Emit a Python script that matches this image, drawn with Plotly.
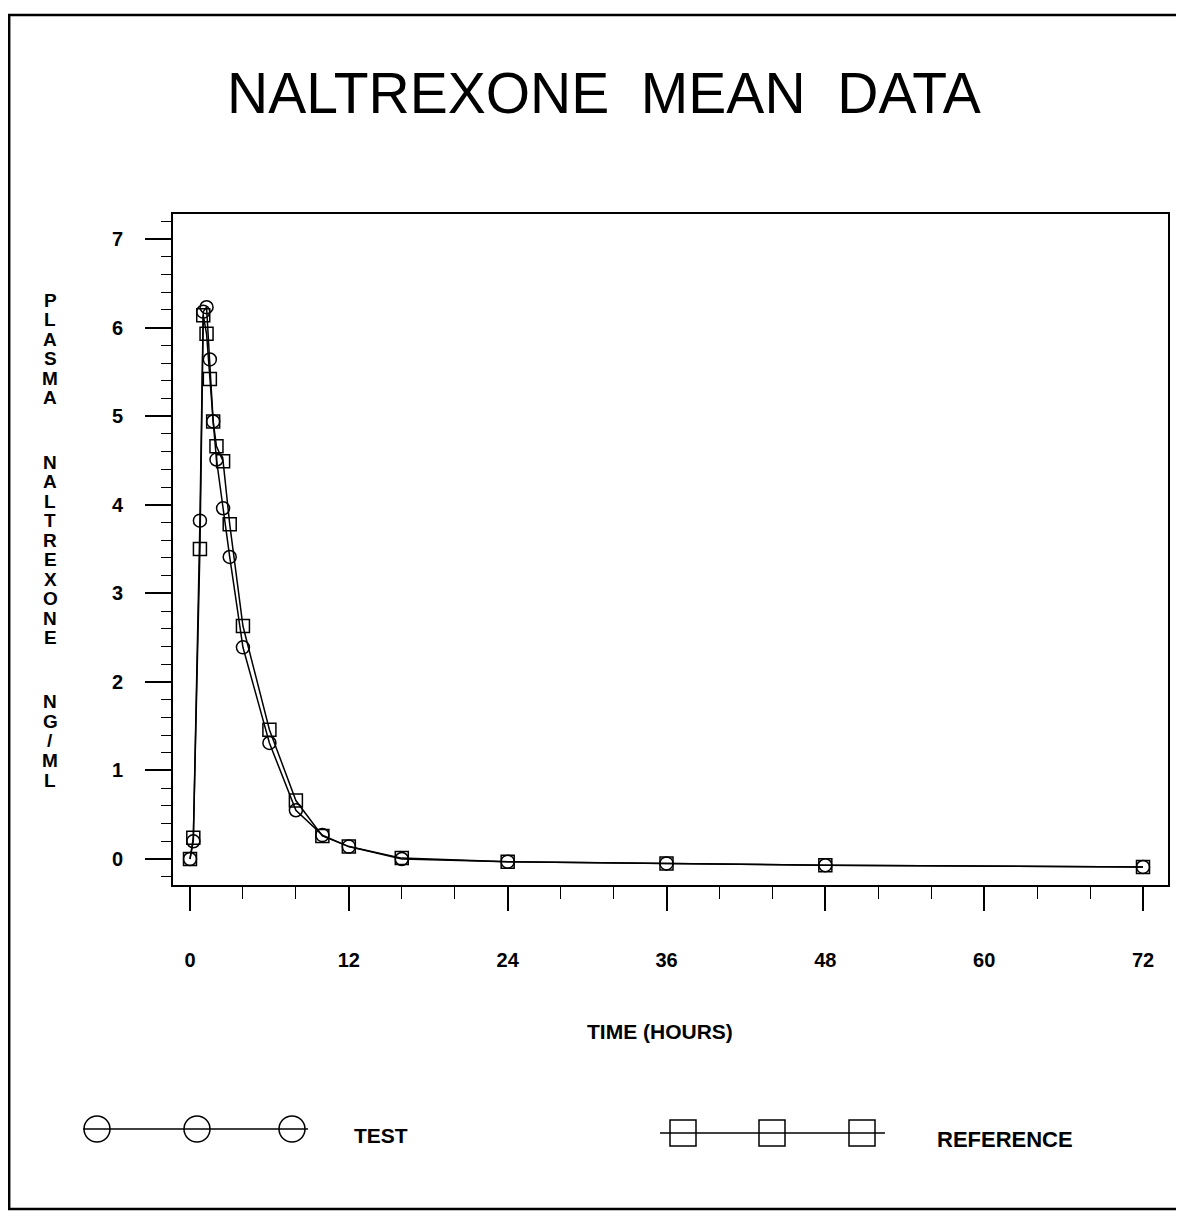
import plotly.graph_objects as go

# ---- data ----
times_h = [0, 0.25, 0.75, 1, 1.25, 1.5, 1.75, 2, 2.5, 3, 4, 6, 8, 10, 12, 16, 24, 36, 48, 72]
test_conc = [0.0, 0.20, 3.82, 6.18, 6.23, 5.64, 4.94, 4.51, 3.96, 3.41, 2.39, 1.31, 0.55, 0.27,
             0.14, 0.0, -0.03, -0.05, -0.07, -0.09]
ref_conc = [0.0, 0.24, 3.50, 6.14, 5.93, 5.42, 4.94, 4.66, 4.49, 3.78, 2.63, 1.46, 0.66, 0.26,
            0.14, 0.01, -0.03, -0.05, -0.07, -0.09]
x_ticks = [0, 12, 24, 36, 48, 60, 72]
y_ticks = [0, 1, 2, 3, 4, 5, 6, 7]
series_names = ["TEST", "REFERENCE"]
title_text = "NALTREXONE\u00a0 MEAN\u00a0 DATA"
x_title = "TIME (HOURS)"
y_title_words = ["PLASMA", "NALTREXONE", "NG/ML"]

# page body has an 8px default margin; work in window pixels
OFF = 8
W, H = 1184 - OFF, 1213 - OFF
FONT = "Liberation Sans, Arial, sans-serif"

def px(x):
    return (x - OFF) / W

def py(y):
    return 1 - (y - OFF) / H

fig = go.Figure()

mk_line = dict(color="black", width=1.5)
fig.add_trace(go.Scatter(x=times_h, y=test_conc, mode="lines+markers", name=series_names[0],
                         line=mk_line,
                         marker=dict(symbol="circle-open", size=13, color="black",
                                     line=dict(width=1.5, color="black")),
                         showlegend=False, xaxis="x", yaxis="y"))
fig.add_trace(go.Scatter(x=times_h, y=ref_conc, mode="lines+markers", name=series_names[1],
                         line=mk_line,
                         marker=dict(symbol="square-open", size=13, color="black",
                                     line=dict(width=1.5, color="black")),
                         showlegend=False, xaxis="x", yaxis="y"))

# ---- legend samples on an overlay pixel axis ----
leg_y = [1129, 1133]
leg_line_x = [[83, 308], [660, 885]]
leg_mark_x = [[97, 197, 292], [683, 772, 862]]
symbols = ["circle-open", "square-open"]
for i in range(2):
    fig.add_trace(go.Scatter(x=leg_line_x[i], y=[leg_y[i]] * 2, mode="lines",
                             line=dict(color="black", width=1.5), showlegend=False,
                             hoverinfo="skip", xaxis="x2", yaxis="y2"))
    fig.add_trace(go.Scatter(x=leg_mark_x[i], y=[leg_y[i]] * 3, mode="markers",
                             marker=dict(symbol=symbols[i], size=26, color="black",
                                         line=dict(width=1.5, color="black")),
                             showlegend=False, hoverinfo="skip", xaxis="x2", yaxis="y2"))

# ---- axes geometry ----
x0_px, x72_px = 190, 1143
fl, fr, ft, fb = 173, 1168, 214, 885
hx = (x72_px - x0_px) / 72.0
y0_px, y7_px = 859, 239
uy = (y0_px - y7_px) / 7.0
xr = [(fl - x0_px) / hx, 72 + (fr - x72_px) / hx]
yr = [-(fb - y0_px) / uy, 7 + (y7_px - ft) / uy]

tickfont = dict(family=FONT, size=20, color="black", weight="bold")

fig.update_layout(
    width=W, height=H, autosize=False,
    margin=dict(l=0, r=0, t=0, b=0),
    paper_bgcolor="white", plot_bgcolor="rgba(0,0,0,0)",
    xaxis=dict(domain=[px(fl), px(fr)], range=xr, tickvals=x_ticks,
               showline=True, linecolor="black", linewidth=2, mirror=True,
               ticks="outside", ticklen=24, tickwidth=1.5, tickcolor="black",
               minor=dict(dtick=4, tick0=0, ticks="outside", ticklen=12, tickwidth=1.2,
                          tickcolor="black", showgrid=False),
               showgrid=False, zeroline=False, tickfont=tickfont, ticklabelstandoff=32),
    yaxis=dict(domain=[py(fb), py(ft)], range=yr, tickvals=y_ticks,
               showline=True, linecolor="black", linewidth=2, mirror=True,
               ticks="outside", ticklen=26, tickwidth=1.5, tickcolor="black",
               minor=dict(dtick=0.2, tick0=0, ticks="outside", ticklen=10, tickwidth=1.2,
                          tickcolor="black", showgrid=False),
               showgrid=False, zeroline=False, tickfont=tickfont, ticklabelstandoff=18),
    xaxis2=dict(domain=[0, 1], range=[OFF, OFF + W], visible=False, fixedrange=True,
                anchor="y2"),
    yaxis2=dict(domain=[0, 1], range=[OFF + H, OFF], visible=False, fixedrange=True,
                anchor="x2"),
    showlegend=False,
)

# outer border
fig.add_shape(type="rect", xref="paper", yref="paper",
              x0=0.001, x1=px(1195), y0=py(1209), y1=py(15),
              line=dict(color="black", width=2.5), layer="above")

ann = []
ann.append(dict(text=title_text, x=px(604), y=py(93), xref="paper", yref="paper",
                showarrow=False, xanchor="center", yanchor="middle",
                font=dict(family=FONT, size=57, color="black")))
ann.append(dict(text=x_title, x=px(660), y=py(1031), xref="paper", yref="paper",
                showarrow=False, xanchor="center", yanchor="middle",
                font=dict(family=FONT, size=21, color="black", weight="bold")))
ann.append(dict(text=series_names[0], x=px(381), y=py(1135), xref="paper", yref="paper",
                showarrow=False, xanchor="center", yanchor="middle",
                font=dict(family=FONT, size=21, color="black", weight="bold")))
ann.append(dict(text=series_names[1], x=px(1005), y=py(1139), xref="paper", yref="paper",
                showarrow=False, xanchor="center", yanchor="middle",
                font=dict(family=FONT, size=22, color="black", weight="bold")))

# stacked vertical y title
letter_step, y_first, y_last = 19.5, 300, 780
n_letters = sum(len(w) for w in y_title_words)
gap = ((y_last - y_first) - (n_letters - len(y_title_words)) * letter_step) / (len(y_title_words) - 1)
yy = y_first
for wi, word in enumerate(y_title_words):
    for ci, ch in enumerate(word):
        ann.append(dict(text=ch, x=px(50), y=py(yy), xref="paper", yref="paper",
                        showarrow=False, xanchor="center", yanchor="middle",
                        font=dict(family=FONT, size=19, color="black", weight="bold")))
        if ci < len(word) - 1:
            yy += letter_step
    yy += gap

fig.update_layout(annotations=ann)
fig.write_html("out.html")
